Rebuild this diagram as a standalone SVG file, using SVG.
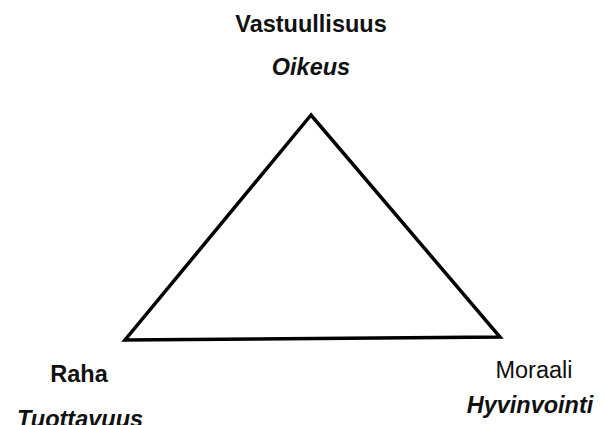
<svg xmlns="http://www.w3.org/2000/svg" width="605" height="425" viewBox="0 0 605 425">
<style>
text{font-family:"Liberation Sans",Arial,sans-serif;font-size:23.5px;fill:#111;text-anchor:middle}
.b{font-weight:bold}
.bi{font-weight:bold;font-style:italic}
</style>
<rect width="605" height="425" fill="#fff"/>
<g id="connectors">
<polygon points="311,115 125,340 500,337" fill="none" stroke="#000" stroke-width="3.5" stroke-linejoin="miter"/>
</g>
<g id="top">
<text class="b" x="311" y="32">Vastuullisuus</text>
<text class="bi" x="311" y="75">Oikeus</text>
</g>
<g id="left">
<text class="b" x="79" y="382">Raha</text>
<text class="bi" x="80" y="427">Tuottavuus</text>
</g>
<g id="right">
<text x="534" y="378">Moraali</text>
<text class="bi" x="530" y="413">Hyvinvointi</text>
</g>
</svg>
